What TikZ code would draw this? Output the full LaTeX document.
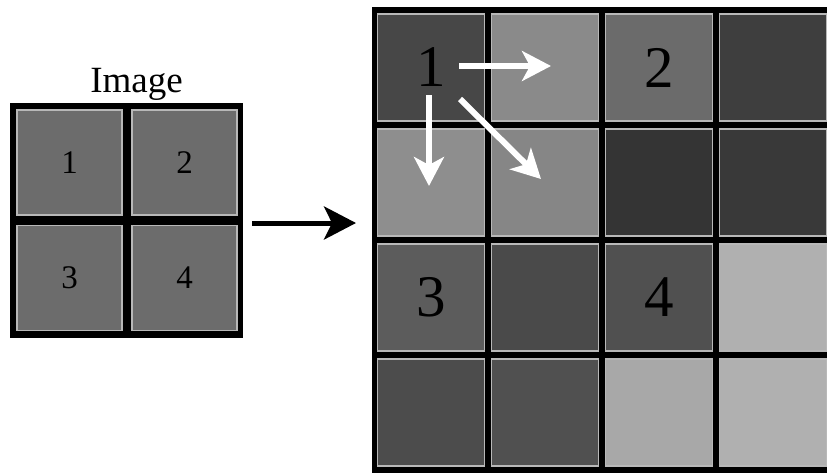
\documentclass[tikz,border=0pt]{standalone}
\usepackage{fontspec}
\setmainfont{Liberation Serif}
\usetikzlibrary{arrows.meta}
\definecolor{gL}{HTML}{6C6C6C}
\definecolor{c11}{HTML}{474747}
\definecolor{c12}{HTML}{8A8A8A}
\definecolor{c13}{HTML}{6B6B6B}
\definecolor{c14}{HTML}{3E3E3E}
\definecolor{c21}{HTML}{8E8E8E}
\definecolor{c22}{HTML}{868686}
\definecolor{c23}{HTML}{343434}
\definecolor{c24}{HTML}{393939}
\definecolor{c31}{HTML}{5C5C5C}
\definecolor{c32}{HTML}{4A4A4A}
\definecolor{c33}{HTML}{505050}
\definecolor{c34}{HTML}{B0B0B0}
\definecolor{c41}{HTML}{4C4C4C}
\definecolor{c42}{HTML}{505050}
\definecolor{c43}{HTML}{A8A8A8}
\definecolor{c44}{HTML}{B0B0B0}
\definecolor{edge}{HTML}{B8B8B8}
\begin{document}
\begin{tikzpicture}[x=1pt,y=-1pt,
  blackframe/.style={fill=black,draw=none},
  cellL/.style={draw=edge,line width=1.2pt,fill=gL,minimum width=105pt,minimum height=105pt,inner sep=0pt,outer sep=0pt,font=\fontsize{33}{33}\selectfont,text=black},
  cellR/.style={draw=edge,line width=1.2pt,minimum width=107pt,minimum height=107pt,inner sep=0pt,outer sep=0pt,font=\fontsize{59}{59}\selectfont,text=black},
  whitearrow/.style={draw=white,line width=6pt,-{Stealth[length=29pt,width=30pt,inset=8pt]}},
  bigarrow/.style={draw=black,line width=5pt,-{Stealth[length=32pt,width=33pt,inset=8pt]}}
]
\clip (0,0) rectangle (827,472);
\fill[white] (0,0) rectangle (827,472);

% left image
\node[font=\fontsize{37}{37}\selectfont,anchor=base] (title) at (136.5,92) {Image};
\node[blackframe,minimum width=233pt,minimum height=235pt,inner sep=0pt,outer sep=0pt] (Lframe) at (126.5,220.5) {};
\node[cellL] (l1) at (69.5,162.5) {1};
\node[cellL] (l2) at (184.5,162.5) {2};
\node[cellL] (l3) at (69.5,278) {3};
\node[cellL] (l4) at (184.5,278) {4};

% right grid
\node[blackframe,minimum width=470pt,minimum height=467pt,inner sep=0pt,outer sep=0pt] (Rframe) at (607,240.5) {};
\node[cellR,fill=c11] (r11) at (431,67.5) {1};
\node[cellR,fill=c12] (r12) at (545,67.5) {};
\node[cellR,fill=c13] (r13) at (659,67.5) {2};
\node[cellR,fill=c14] (r14) at (773,67.5) {};
\node[cellR,fill=c21] (r21) at (431,182.5) {};
\node[cellR,fill=c22] (r22) at (545,182.5) {};
\node[cellR,fill=c23] (r23) at (659,182.5) {};
\node[cellR,fill=c24] (r24) at (773,182.5) {};
\node[cellR,fill=c31] (r31) at (431,297.5) {3};
\node[cellR,fill=c32] (r32) at (545,297.5) {};
\node[cellR,fill=c33] (r33) at (659,297.5) {4};
\node[cellR,fill=c34] (r34) at (773,297.5) {};
\node[cellR,fill=c41] (r41) at (431,412.5) {};
\node[cellR,fill=c42] (r42) at (545,412.5) {};
\node[cellR,fill=c43] (r43) at (659,412.5) {};
\node[cellR,fill=c44] (r44) at (773,412.5) {};

% white arrows
\coordinate (hs) at (459,66);
\coordinate (he) at (551,66);
\coordinate (ds) at (429,95);
\coordinate (de) at (429,186);
\coordinate (gs) at (460,99);
\coordinate (ge) at (541,179);
\draw[whitearrow] (hs) -- (he);
\draw[whitearrow] (ds) -- (de);
\draw[whitearrow] (gs) -- (ge);

% big arrow
\draw[bigarrow] ([xshift=9pt,yshift=-2.5pt]Lframe.east) -- ([xshift=-16pt,yshift=-2.5pt]Lframe.east -| Rframe.west);
\end{tikzpicture}
\end{document}
